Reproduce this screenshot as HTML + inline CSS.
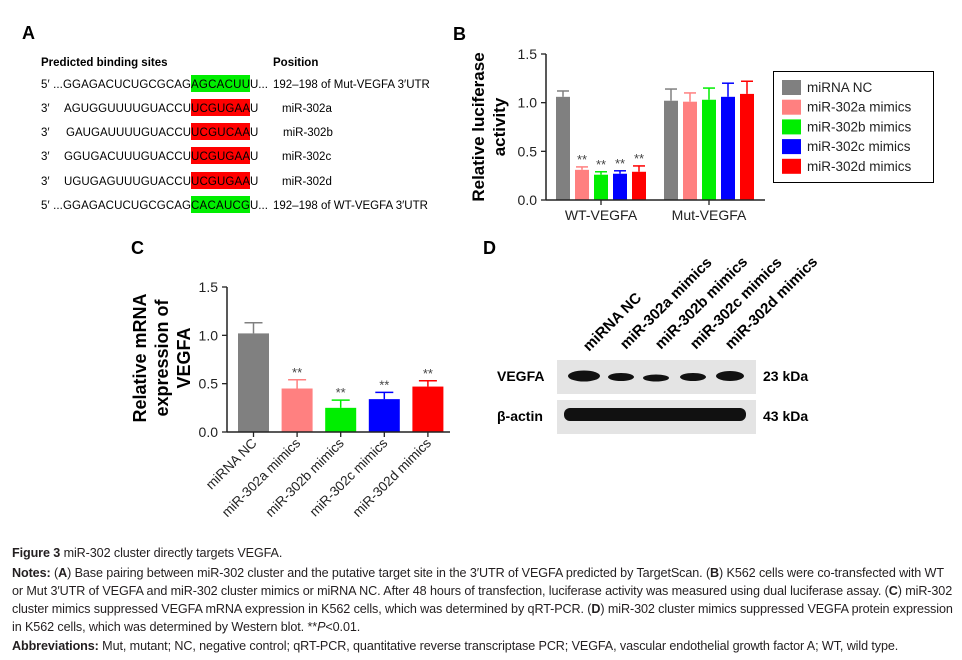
<!DOCTYPE html>
<html><head><meta charset="utf-8"><style>
body{margin:0;background:#fff;}
#root{position:relative;width:962px;height:660px;overflow:hidden;font-family:"Liberation Sans",sans-serif;}
.cap{position:absolute;left:12px;font-size:12.6px;color:#231f20;white-space:nowrap;letter-spacing:-0.1px;}
</style></head><body>
<div id="root">
<svg width="962" height="545" style="position:absolute;left:0;top:0" font-family="Liberation Sans, sans-serif">
<!-- Panel A -->
<g font-size="11.5" fill="#000">
<text x="22" y="39" font-size="18" font-weight="bold">A</text>
<text x="41" y="66" font-weight="bold">Predicted binding sites</text>
<text x="273" y="66" font-weight="bold">Position</text>
<rect x="191" y="75" width="59" height="17" fill="#00ee00"/>
<rect x="191" y="99" width="59" height="17" fill="#ff0000"/>
<rect x="191" y="123" width="59" height="17" fill="#ff0000"/>
<rect x="191" y="147" width="59" height="17" fill="#ff0000"/>
<rect x="191" y="172" width="59" height="17" fill="#ff0000"/>
<rect x="191" y="196" width="59" height="17" fill="#00ee00"/>
<text x="41" y="88"><tspan x="41" textLength="150">5′ ...GGAGACUCUGCGCAG</tspan><tspan x="191" textLength="59">AGCACUU</tspan><tspan x="250">U...</tspan></text>
<text x="273" y="88">192–198 of Mut-VEGFA 3′UTR</text>
<text x="41" y="112">3′<tspan x="64" textLength="127">AGUGGUUUUGUACCU</tspan><tspan x="191" textLength="59">UCGUGAA</tspan><tspan x="250">U</tspan></text>
<text x="282" y="112">miR-302a</text>
<text x="41" y="136">3′<tspan x="66" textLength="125">GAUGAUUUUGUACCU</tspan><tspan x="191" textLength="59">UCGUCAA</tspan><tspan x="250">U</tspan></text>
<text x="283" y="136">miR-302b</text>
<text x="41" y="160">3′<tspan x="64" textLength="127">GGUGACUUUGUACCU</tspan><tspan x="191" textLength="59">UCGUGAA</tspan><tspan x="250">U</tspan></text>
<text x="282" y="160">miR-302c</text>
<text x="41" y="185">3′<tspan x="64" textLength="127">UGUGAGUUUGUACCU</tspan><tspan x="191" textLength="59">UCGUGAA</tspan><tspan x="250">U</tspan></text>
<text x="282" y="185">miR-302d</text>
<text x="41" y="209"><tspan x="41" textLength="150">5′ ...GGAGACUCUGCGCAG</tspan><tspan x="191" textLength="59">CACAUCG</tspan><tspan x="250">U...</tspan></text>
<text x="273" y="209">192–198 of WT-VEGFA 3′UTR</text>
</g>
<g id="chartB"></g>
<g id="chartC"></g>
<!-- Panel D -->
<g>
<text x="483" y="254" font-size="18" font-weight="bold">D</text>
<g font-size="15" font-weight="bold">
<text transform="translate(589,352) rotate(-45)">miRNA NC</text>
<text transform="translate(626,350) rotate(-45)">miR-302a mimics</text>
<text transform="translate(661,350) rotate(-45)">miR-302b mimics</text>
<text transform="translate(696,350) rotate(-45)">miR-302c mimics</text>
<text transform="translate(731,350) rotate(-45)">miR-302d mimics</text>
</g>
<rect x="557" y="360" width="199" height="34" fill="#e4e4e4"/>
<rect x="557" y="400" width="199" height="34" fill="#e4e4e4"/>
<g fill="#111">
<ellipse cx="584" cy="376" rx="16" ry="5.5"/>
<ellipse cx="621" cy="377" rx="13" ry="4"/>
<ellipse cx="656" cy="378" rx="13" ry="3.5"/>
<ellipse cx="693" cy="377" rx="13" ry="4"/>
<ellipse cx="730" cy="376" rx="14" ry="5"/>
<rect x="564" y="408" width="182" height="13" rx="6"/>
</g>
<g font-size="14" font-weight="bold">
<text x="497" y="381">VEGFA</text>
<text x="497" y="421">β-actin</text>
<text x="763" y="381">23 kDa</text>
<text x="763" y="421">43 kDa</text>
</g>
</g>
</svg>
<div class="cap" style="top:546px"><b>Figure 3</b> miR-302 cluster directly targets VEGFA.</div>
<div class="cap" style="top:566px"><b>Notes:</b> (<b>A</b>) Base pairing between miR-302 cluster and the putative target site in the 3′UTR of VEGFA predicted by TargetScan. (<b>B</b>) K562 cells were co-transfected with WT</div>
<div class="cap" style="top:584px">or Mut 3′UTR of VEGFA and miR-302 cluster mimics or miRNA NC. After 48 hours of transfection, luciferase activity was measured using dual luciferase assay. (<b>C</b>) miR-302</div>
<div class="cap" style="top:602px">cluster mimics suppressed VEGFA mRNA expression in K562 cells, which was determined by qRT-PCR. (<b>D</b>) miR-302 cluster mimics suppressed VEGFA protein expression</div>
<div class="cap" style="top:620px">in K562 cells, which was determined by Western blot. **<i>P</i>&lt;0.01.</div>
<div class="cap" style="top:639px"><b>Abbreviations:</b> Mut, mutant; NC, negative control; qRT-PCR, quantitative reverse transcriptase PCR; VEGFA, vascular endothelial growth factor A; WT, wild type.</div>
</div>
<script>
const NS='http://www.w3.org/2000/svg';
const seriesNames=['miRNA NC','miR-302a mimics','miR-302b mimics','miR-302c mimics','miR-302d mimics'];
const seriesColors=['#808080','#ff8080','#00ee00','#0000ff','#ff0000'];
const groupsB=['WT-VEGFA','Mut-VEGFA'];
const valuesWT=[1.06,0.31,0.26,0.27,0.29];
const errorsWT=[0.06,0.03,0.03,0.03,0.06];
const valuesMut=[1.02,1.01,1.03,1.06,1.09];
const errorsMut=[0.12,0.09,0.12,0.14,0.13];
const sigWT=['','**','**','**','**'];
const ticksY=[0,0.5,1.0,1.5];
const tickLabelsY=['0.0','0.5','1.0','1.5'];
const valuesC=[1.02,0.45,0.25,0.34,0.47];
const errorsC=[0.11,0.09,0.08,0.07,0.06];
const sigC=['','**','**','**','**'];

function mk(parent,tag,attrs,text){const e=document.createElementNS(NS,tag);for(const k in attrs)e.setAttribute(k,attrs[k]);if(text!==undefined)e.textContent=text;parent.appendChild(e);return e;}

// Panel B
(function(){
const g=document.getElementById('chartB');
const x0=546,x1=765,yB=200,yT=54,max=1.5;
const y=v=>yB-(v/max)*(yB-yT);
let t=mk(g,'text',{x:453,y:40,'font-size':18,'font-weight':'bold'},'B');


ticksY.forEach((v,i)=>{
 mk(g,'line',{x1:x0-5,x2:x0,y1:y(v),y2:y(v),stroke:'#222','stroke-width':1.3});
 const l=mk(g,'text',{x:x0-9,y:y(v)+5,'text-anchor':'end','font-size':14,fill:'#222'},tickLabelsY[i]);
 
 
});
const groupStart=[556,664],step=19,bw=14;
[valuesWT,valuesMut].forEach((vals,gi)=>{
 const errs=gi===0?errorsWT:errorsMut;
 vals.forEach((v,i)=>{
  const bx=groupStart[gi]+i*step;
  const cx=bx+bw/2;
  mk(g,'line',{x1:cx,x2:cx,y1:y(v),y2:y(v+errs[i]),stroke:seriesColors[i],'stroke-width':1.5});
  mk(g,'line',{x1:cx-6,x2:cx+6,y1:y(v+errs[i]),y2:y(v+errs[i]),stroke:seriesColors[i],'stroke-width':1.5});
  const r=mk(g,'rect',{x:bx,y:y(v),width:bw,height:yB-y(v),fill:seriesColors[i]});
  
  
  if(gi===0&&sigWT[i]){mk(g,'text',{x:cx,y:y(v+errs[i])-3,'text-anchor':'middle','font-size':13,fill:'#444'},sigWT[i]);}
 });
 const gc=(groupStart[gi]+groupStart[gi]+4*step+bw)/2;
 mk(g,'line',{x1:gc,x2:gc,y1:yB,y2:yB+5,stroke:'#222','stroke-width':1.3});
 const l=mk(g,'text',{x:gc,y:yB+20,'text-anchor':'middle','font-size':14,fill:'#222'},groupsB[gi]);
 
 
});
mk(g,'line',{x1:x0,x2:x0,y1:yT,y2:yB,stroke:'#222','stroke-width':1.5});
mk(g,'line',{x1:x0,x2:x1,y1:yB,y2:yB,stroke:'#222','stroke-width':1.5});
const tt=mk(g,'text',{transform:'translate(484,127) rotate(-90)','text-anchor':'middle','font-size':17,'font-weight':'bold'},'Relative luciferase');


mk(g,'text',{transform:'translate(505,127) rotate(-90)','text-anchor':'middle','font-size':17,'font-weight':'bold'},'activity');
const lg=mk(g,'g',{});


mk(lg,'rect',{x:773.5,y:71.5,width:160,height:111,fill:'#fff',stroke:'#000','stroke-width':1});
seriesNames.forEach((n,i)=>{
 const cy=87+i*19.7;
 mk(lg,'rect',{x:782,y:cy-7,width:19,height:15,fill:seriesColors[i]});
 const e=mk(lg,'text',{x:807,y:cy+5,'font-size':13.5,fill:'#222'},n);
 
 
});
})();

// Panel C
(function(){
const g=document.getElementById('chartC');
const x0=227,x1=450,yB=432,yT=287,max=1.5;
const y=v=>yB-(v/max)*(yB-yT);
let t=mk(g,'text',{x:131,y:254,'font-size':18,'font-weight':'bold'},'C');


ticksY.forEach((v,i)=>{
 mk(g,'line',{x1:x0-5,x2:x0,y1:y(v),y2:y(v),stroke:'#222','stroke-width':1.3});
 const l=mk(g,'text',{x:x0-9,y:y(v)+5,'text-anchor':'end','font-size':14,fill:'#222'},tickLabelsY[i]);
 
 
});
const start=238,step=43.6,bw=31;
valuesC.forEach((v,i)=>{
 const bx=start+i*step,cx=bx+bw/2;
 const top=y(v+errorsC[i]);
 mk(g,'line',{x1:cx,x2:cx,y1:y(v),y2:top,stroke:seriesColors[i],'stroke-width':1.5});
 mk(g,'line',{x1:cx-9,x2:cx+9,y1:top,y2:top,stroke:seriesColors[i],'stroke-width':1.5});
 const r=mk(g,'rect',{x:bx,y:y(v),width:bw,height:yB-y(v),fill:seriesColors[i]});
 
 
 if(sigC[i])mk(g,'text',{x:cx,y:top-3,'text-anchor':'middle','font-size':13,fill:'#444'},sigC[i]);
 mk(g,'line',{x1:cx,x2:cx,y1:yB,y2:yB+5,stroke:'#222','stroke-width':1.3});
 const l=mk(g,'text',{transform:'translate('+(cx+4)+','+(yB+12)+') rotate(-45)','text-anchor':'end','font-size':13.5,fill:'#222'},seriesNames[i]);
 
 
});
mk(g,'line',{x1:x0,x2:x0,y1:yT,y2:yB,stroke:'#222','stroke-width':1.5});
mk(g,'line',{x1:x0,x2:x1,y1:yB,y2:yB,stroke:'#222','stroke-width':1.5});
const tt=mk(g,'text',{transform:'translate(146,358) rotate(-90)','text-anchor':'middle','font-size':18,'font-weight':'bold'},'Relative mRNA');


mk(g,'text',{transform:'translate(168,358) rotate(-90)','text-anchor':'middle','font-size':18,'font-weight':'bold'},'expression of');
mk(g,'text',{transform:'translate(190,358) rotate(-90)','text-anchor':'middle','font-size':18,'font-weight':'bold'},'VEGFA');
})();
</script>
</body></html>
